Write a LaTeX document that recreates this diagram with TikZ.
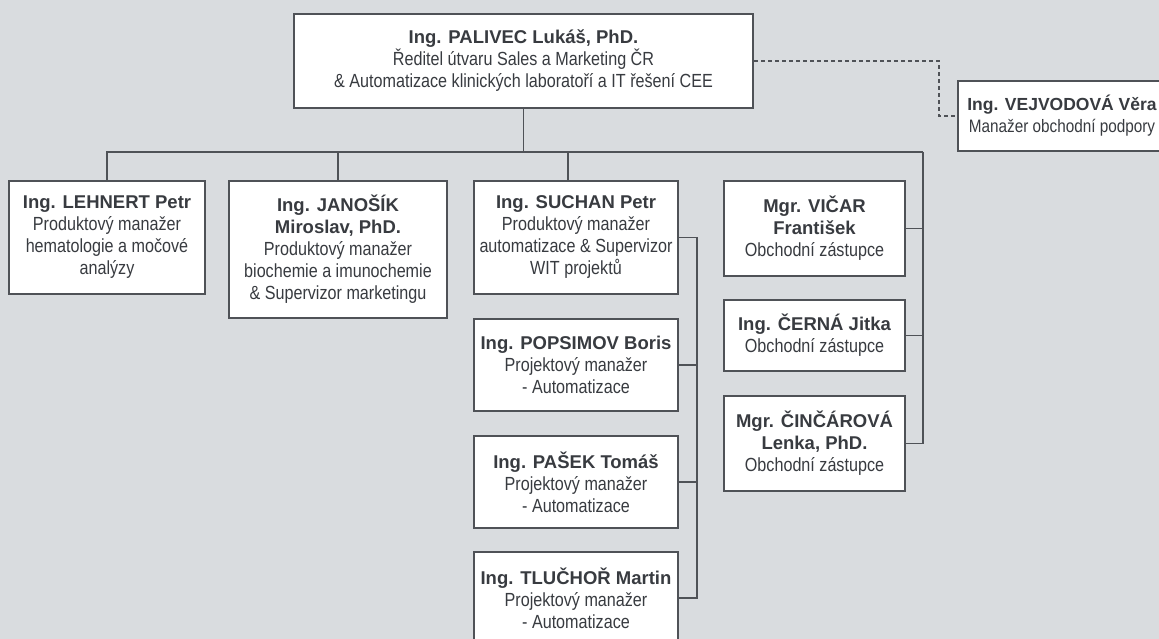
\documentclass[tikz,border=0pt]{standalone}
\usepackage{fontspec}
\setmainfont{Liberation Sans}
\newfontfamily\bodyfont[FakeStretch=0.85]{Liberation Sans}
\definecolor{bg}{HTML}{D9DCDF}
\definecolor{ink}{HTML}{383B40}
\definecolor{edge}{HTML}{4F5257}
\newcommand\nm[1]{{\rmfamily\bfseries\fontsize{18.5}{22}\selectfont #1}}
\begin{document}
\begin{tikzpicture}[x=1pt,y=-1pt,
  card/.style={draw=edge, line width=1.3pt, fill=white, text=ink, align=center,
    inner sep=2pt, font=\bodyfont\fontsize{19}{22}\selectfont},
  link/.style={draw=edge, line width=1.3pt},
  dashlink/.style={draw=edge, line width=1.2pt, dash pattern=on 4pt off 3pt}]
\useasboundingbox (0,0) rectangle (1159,639);
\clip (0,0) rectangle (1159,639);
\fill[bg] (0,0) rectangle (1159,639);

\node[card, line width=2.4pt, minimum width=459pt, minimum height=94pt] (top) at (523.5,61)
  {\nm{Ing. PALIVEC Lukáš, PhD.}\\Ředitel útvaru Sales a Marketing ČR\\\& Automatizace klinických laboratoří a IT řešení CEE};
\node[card, minimum width=208pt, minimum height=70pt, font=\bodyfont\fontsize{18}{22}\selectfont] (vej) at (1062,116)
  {{\rmfamily\bfseries\fontsize{17.5}{22}\selectfont Ing. VEJVODOVÁ Věra}\\Manažer obchodní podpory};

\node[card, minimum width=196pt, minimum height=113pt] (lehnert) at (107,237.5)
  {\nm{Ing. LEHNERT Petr}\\Produktový manažer\\hematologie a močové\\analýzy};
\node[card, minimum width=218pt, minimum height=137pt] (janosik) at (338,249.5)
  {\nm{Ing. JANOŠÍK}\\\nm{Miroslav, PhD.}\\Produktový manažer\\biochemie a imunochemie\\\& Supervizor marketingu};
\node[card, minimum width=204pt, minimum height=113pt] (suchan) at (576,237.5)
  {\nm{Ing. SUCHAN Petr}\\Produktový manažer\\automatizace \& Supervizor\\WIT projektů};
\node[card, minimum width=204pt, minimum height=92pt] (popsimov) at (576,365)
  {\nm{Ing. POPSIMOV Boris}\\Projektový manažer\\- Automatizace};
\node[card, minimum width=204pt, minimum height=92pt] (pasek) at (576,482)
  {\nm{Ing. PAŠEK Tomáš}\\Projektový manažer\\- Automatizace};
\node[card, minimum width=204pt, minimum height=92pt] (tluchor) at (576,598)
  {\nm{Ing. TLUČHOŘ Martin}\\Projektový manažer\\- Automatizace};

\node[card, minimum width=181pt, minimum height=95pt] (vicar) at (814.5,228.5)
  {\nm{Mgr. VIČAR}\\\nm{František}\\Obchodní zástupce};
\node[card, minimum width=181pt, minimum height=71pt] (cerna) at (814.5,335.5)
  {\nm{Ing. ČERNÁ Jitka}\\Obchodní zástupce};
\node[card, minimum width=181pt, minimum height=95pt] (cinc) at (814.5,443.5)
  {\nm{Mgr. ČINČÁROVÁ}\\\nm{Lenka, PhD.}\\Obchodní zástupce};

\coordinate (busL) at (108,152);
\coordinate (busR) at (923,152);
\coordinate (subx) at (697,0);
\coordinate (dashx) at (939,0);

\draw[link] (top.south) -- (top.south |- busL);
\draw[link] (lehnert.north) |- (busR);
\draw[link] (janosik.north) -- (janosik.north |- busL);
\draw[link] ([xshift=-8pt]suchan.north) -- ([xshift=-8pt]suchan.north |- busL);
\draw[link] (busR) |- (cinc.east);
\draw[link] (vicar.east) -- (vicar.east -| busR);
\draw[link] (cerna.east) -- (cerna.east -| busR);
\draw[link] (suchan.east) -| (subx |- tluchor.east) -- (tluchor.east);
\draw[link] (popsimov.east) -- (popsimov.east -| subx);
\draw[link] (pasek.east) -- (pasek.east -| subx);
\draw[dashlink] (top.east) -| (dashx |- vej.west) -- (vej.west);
\end{tikzpicture}
\end{document}
